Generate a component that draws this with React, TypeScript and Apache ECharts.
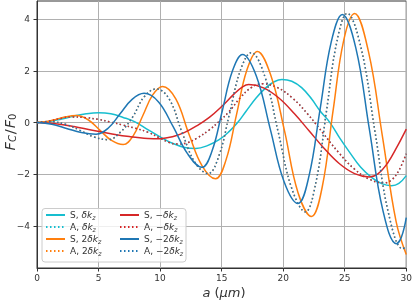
import React, { useEffect, useRef } from 'react';
import * as echarts from 'echarts';

const X_TICKS = [0, 5, 10, 15, 20, 25, 30];
const Y_TICKS = [-4, -2, 0, 2, 4];
const X_RANGE = [0, 30];
const Y_RANGE = [-5.62, 4.7];

const LEGEND_PREFIX = ['S, ', 'A, ', 'S, 2', 'A, 2', 'S, \u2212', 'A, \u2212', 'S, \u22122', 'A, \u22122'];
const SERIES_NAMES = LEGEND_PREFIX.map((p) => p + '\u03b4kz');

// S, δk_z (cyan solid)
const S_DK: number[][] = [
  [0, 0], [1, 0.04], [2, 0.14], [3, 0.25], [4, 0.34], [5, 0.38], [6, 0.34], [7, 0.2], [8, 0.02],
  [9, -0.27], [10, -0.55], [11, -0.8], [12, -0.96], [12.9, -1.0], [13.8, -0.9], [14.8, -0.66],
  [15.6, -0.35], [16.3, 0], [17.0, 0.45], [17.8, 0.95], [18.6, 1.35], [19.2, 1.56], [19.9, 1.67],
  [20.7, 1.6], [21.5, 1.35], [22.3, 0.92], [23, 0.45], [23.8, 0], [24.6, -0.6], [25.4, -1.15],
  [26.3, -1.73], [27.2, -2.13], [28, -2.36], [28.8, -2.44], [29.4, -2.35], [30, -2.05],
];
// A, −δk_z (red dotted); A, δk_z coincides with it
const A_NDK: number[][] = [
  [0, 0], [1, 0.06], [2, 0.17], [2.8, 0.22], [4, 0.19], [5, 0.12], [6, 0.02], [7, -0.1], [8, -0.22],
  [9, -0.37], [10, -0.6], [10.7, -0.76], [11.4, -0.83], [12.2, -0.78], [13, -0.6], [14, -0.28],
  [14.8, 0.05], [15.6, 0.42], [16.5, 0.95], [17.4, 1.35], [18.3, 1.5], [19.54, 1.35], [20.775, 0.94],
  [22.01, 0.32], [23.25, -0.415], [24.49, -1.15], [25.725, -1.77], [26.96, -2.18], [28.2, -2.33],
  [28.8, -2.22], [29.4, -1.85], [30, -1.2],
];
const A_DK = A_NDK;
// S, 2δk_z (orange solid)
const S_2DK: number[][] = [
  [0, 0], [0.8, 0.04], [1.6, 0.135], [2.4, 0.23], [3.2, 0.27], [4.15, 0.11], [5.1, -0.29], [6.05, -0.69],
  [7.0, -0.85], [7.8, -0.52], [8.6, 0.275], [9.4, 1.07], [10.2, 1.4], [11.275, 0.92], [12.35, -0.45],
  [13.425, -1.68], [14.5, -2.17], [15.35, -1.45], [16.2, 0.29], [17.05, 2.03], [17.9, 2.75], [19.0, 1.82],
  [20.1, -0.3], [21.2, -2.7], [22.3, -3.63], [23.175, -2.48], [24.05, 0.45], [24.925, 3.2], [25.8, 4.22],
  [26.925, 2.75], [28.05, -0.49], [29.175, -3.83], [30, -5.1],
];
// A, −2δk_z (blue dotted); A, 2δk_z coincides with it
const A_N2DK: number[][] = [
  [0, 0], [1.2, 0.03], [2.4, -0.08], [3.5, -0.3], [4.6, -0.55], [5.8, -0.66], [6.775, -0.37], [7.75, 0.2],
  [8.725, 1.01], [9.7, 1.3], [10.75, 0.9], [11.8, -0.4], [12.85, -1.55], [13.9, -1.97], [14.775, -1.29],
  [15.65, 0.365], [16.525, 2.02], [17.4, 2.7], [18.5, 1.8], [19.6, -0.375], [20.7, -2.55], [21.8, -3.45],
  [22.65, -2.33], [23.5, 0.385], [24.35, 3.1], [25.2, 4.22], [26.325, 2.89], [27.45, -0.325],
  [28.575, -3.54], [29.7, -4.87], [30, -4.8],
];
const A_2DK = A_N2DK;
// S, −δk_z (red solid)
const S_NDK: number[][] = [
  [0, 0], [1.5, -0.04], [3, -0.15], [4.5, -0.3], [6, -0.43], [7.5, -0.54], [9, -0.61], [10, -0.62],
  [11, -0.55], [12, -0.38], [13, -0.12], [14, 0.2], [15, 0.62], [16, 1.1], [16.7, 1.38], [17.2, 1.47],
  [18.4, 1.34], [19.65, 0.95], [20.9, 0.35], [22.1, -0.315], [23.3, -0.98], [24.55, -1.58], [25.8, -1.97],
  [27, -2.1], [27.7, -1.98], [28.5, -1.55], [29.2, -0.98], [30, -0.25],
];
// S, −2δk_z (blue solid)
const S_N2DK: number[][] = [
  [0, 0], [1.2, -0.066], [2.4, -0.225], [3.6, -0.384], [4.8, -0.45], [5.775, -0.22], [6.75, 0.34],
  [7.725, 0.9], [8.7, 1.13], [9.875, 0.8], [11.05, -0.15], [12.225, -1.2], [13.4, -1.73], [14.225, -1.09],
  [15.05, 0.45], [15.875, 1.99], [16.7, 2.63], [17.825, 1.79], [18.95, -0.25], [20.075, -2.29],
  [21.2, -3.13], [22.1, -2.06], [23.0, 0.525], [23.9, 3.11], [24.8, 4.18], [25.9, 2.89], [27.0, -0.25],
  [28.1, -3.39], [29.2, -4.68], [29.6, -4.43], [30, -3.67],
];

const SERIES_DATA = [S_DK, A_DK, S_2DK, A_2DK, S_NDK, A_NDK, S_N2DK, A_N2DK];
const SERIES_COLORS = ['#17becf', '#17becf', '#ff7f0e', '#ff7f0e', '#d62728', '#d62728', '#1f77b4', '#1f77b4'];
const SERIES_DOTTED = [false, true, false, true, false, true, false, true];

const FONT = 'DejaVu Sans';
const TXT = '#333333';

export default function App() {
  const ref = useRef<HTMLDivElement>(null);
  useEffect(() => {
    const chart = echarts.init(ref.current!, null, { renderer: 'svg' });
    const minus = (v: number) => String(v).replace('-', '\u2212');
    const legendRich = {
      t: { fontSize: 9, fontFamily: FONT, color: TXT, lineHeight: 10, verticalAlign: 'top' },
      i: { fontSize: 9, fontFamily: FONT, fontStyle: 'italic', color: TXT, lineHeight: 10, verticalAlign: 'top' },
      s: { fontSize: 6.3, fontFamily: FONT, fontStyle: 'italic', color: TXT, lineHeight: 7, verticalAlign: 'bottom', padding: [4, 0, 0, 0] },
    };
    const legendFormatter = (name: string) => {
      const idx = SERIES_NAMES.indexOf(name);
      return `{t|${LEGEND_PREFIX[idx]}}{i|\u03b4k}{s|z}`;
    };
    const legendBase = {
      orient: 'vertical',
      top: 210,
      itemWidth: 19,
      itemHeight: 8,
      itemGap: 2,
      z: 60,
      selectedMode: false,
      formatter: legendFormatter,
      itemStyle: { opacity: 0, borderWidth: 0 },
      textStyle: { fontSize: 9, fontFamily: FONT, color: TXT, rich: legendRich },
      padding: 0,
    };
    const option: any = {
      animation: false,
      grid: { left: 37, right: 5, top: 1, bottom: 34, show: true, borderColor: '#333', borderWidth: 1, backgroundColor: 'transparent' },
      xAxis: {
        type: 'value',
        min: X_RANGE[0],
        max: X_RANGE[1],
        interval: 5,
        axisLine: { show: true, onZero: false, lineStyle: { color: '#333', width: 1 } },
        axisTick: { show: true, length: 3.5, customValues: X_TICKS, lineStyle: { color: '#333' } },
        axisLabel: { margin: 5, fontSize: 9, fontFamily: FONT, color: TXT, customValues: X_TICKS },
        splitLine: { show: true, lineStyle: { color: '#b0b0b0', width: 1 } },
      },
      yAxis: {
        type: 'value',
        min: Y_RANGE[0],
        max: Y_RANGE[1],
        axisLine: { show: true, onZero: false, lineStyle: { color: '#333', width: 1 } },
        axisTick: { show: true, length: 3.5, customValues: Y_TICKS, lineStyle: { color: '#333' } },
        axisLabel: { margin: 7, fontSize: 9, fontFamily: FONT, color: TXT, customValues: Y_TICKS, formatter: minus },
        splitLine: { show: true, lineStyle: { color: '#b0b0b0', width: 1 } },
      },
      legend: [
        { ...legendBase, left: 45, data: SERIES_NAMES.slice(0, 4) },
        { ...legendBase, left: 119, data: SERIES_NAMES.slice(4, 8) },
      ],
      graphic: [
        {
          type: 'rect',
          z: 50,
          shape: { x: 42, y: 208.5, width: 144, height: 53.5, r: 3 },
          style: { fill: 'rgba(255,255,255,0.8)', stroke: '#cccccc', lineWidth: 1 },
        },
        {
          type: 'text',
          z: 50,
          x: 10,
          y: 132,
          rotation: Math.PI / 2,
          style: {
            text: '{i|F}{s|C}{t|/}{i|F}{u|0}',
            align: 'center',
            verticalAlign: 'middle',
            fill: TXT,
            fontSize: 14.5,
            fontFamily: FONT,
            rich: {
              t: { fontSize: 14.5, fontFamily: FONT, lineHeight: 15, verticalAlign: 'top', padding: [0, 1, 0, 1] },
              i: { fontSize: 14.5, fontFamily: FONT, fontStyle: 'italic', lineHeight: 15, verticalAlign: 'top' },
              s: { fontSize: 10, fontFamily: FONT, fontStyle: 'italic', lineHeight: 11, verticalAlign: 'bottom', padding: [6, 0, 0, 0] },
              u: { fontSize: 10, fontFamily: FONT, lineHeight: 11, verticalAlign: 'bottom', padding: [6, 0, 0, 0] },
            },
          },
        },
        {
          type: 'text',
          z: 50,
          x: 224,
          y: 292,
          style: {
            text: '{i|a}{t| (}{i|\u03bcm}{t|)}',
            align: 'center',
            verticalAlign: 'middle',
            fill: TXT,
            fontSize: 13,
            fontFamily: FONT,
            rich: {
              t: { fontSize: 13, fontFamily: FONT },
              i: { fontSize: 13, fontFamily: FONT, fontStyle: 'italic' },
            },
          },
        },
      ],
      series: SERIES_NAMES.map((name, k) => ({
        name,
        type: 'line',
        data: SERIES_DATA[k],
        symbol: 'none',
        showSymbol: false,
        smooth: 0.4,
        silent: true,
        itemStyle: { color: SERIES_COLORS[k] },
        lineStyle: {
          color: SERIES_COLORS[k],
          width: 1.5,
          type: SERIES_DOTTED[k] ? [1.5, 2.5] : 'solid',
          cap: 'butt',
        },
      })),
    };
    chart.setOption(option);
    return () => chart.dispose();
  }, []);
  return <div ref={ref} style={{ position: 'fixed', left: 0, top: 0, width: 415, height: 302 }} />;
}
